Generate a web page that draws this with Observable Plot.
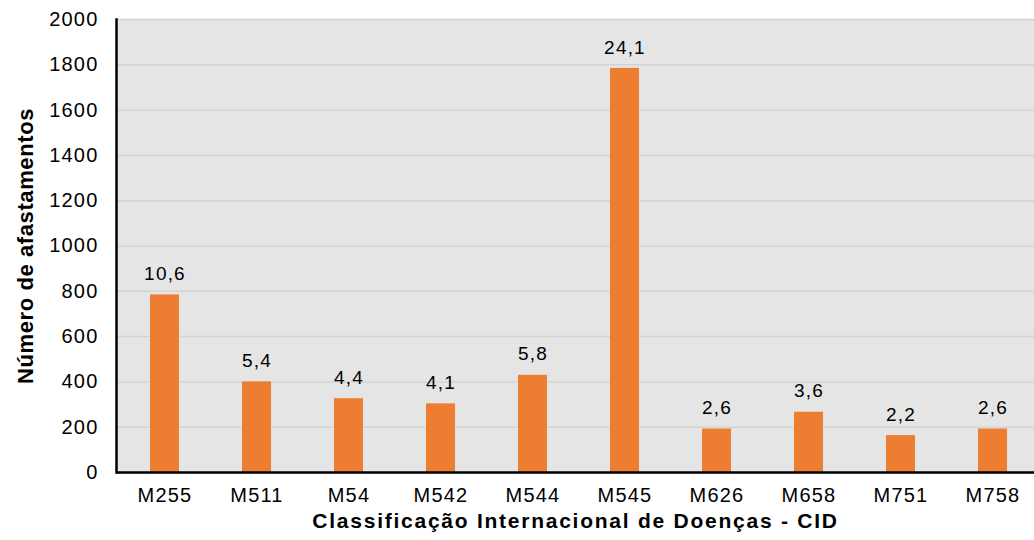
<!DOCTYPE html>
<html>
<head>
<meta charset="utf-8">
<script src="https://cdn.jsdelivr.net/npm/d3@7"></script>
<script src="https://cdn.jsdelivr.net/npm/@observablehq/plot@0.6"></script>
<style>
  html, body { margin: 0; padding: 0; background: #fff; overflow: hidden; }
</style>
</head>
<body>
<div id="chart"></div>
<script>
const categories = ["M255", "M511", "M54", "M542", "M544", "M545", "M626", "M658", "M751", "M758"];
const counts = [784, 400, 326, 303, 429, 1784, 192, 266, 163, 192];
const percentLabels = ["10,6", "5,4", "4,4", "4,1", "5,8", "24,1", "2,6", "3,6", "2,2", "2,6"];
const yTicks = [0, 200, 400, 600, 800, 1000, 1200, 1400, 1600, 1800, 2000];
const xTitle = "Classificação Internacional de Doenças - CID";
const yTitle = "Número de afastamentos";

const data = categories.map((c, i) => ({cid: c, n: counts[i], pct: percentLabels[i]}));

const chart = Plot.plot({
  width: 1034,
  height: 540,
  marginLeft: 116,
  marginRight: 0,
  marginTop: 19,
  marginBottom: 68,
  style: {fontFamily: "'Liberation Sans', Arial, sans-serif", fontSize: "20px", background: "#fff", color: "#000"},
  x: {domain: categories, range: [116, 1040], paddingInner: 0.686, paddingOuter: 0.343, label: null},
  y: {domain: [0, 2000], label: null},
  marks: [
    Plot.frame({fill: "#e5e5e5", stroke: null}),
    Plot.gridY(yTicks, {stroke: "#d3d3d3", strokeOpacity: 1, strokeWidth: 1.5}),
    Plot.barY(data, {x: "cid", y: "n", fill: "#ED7D31"}),
    Plot.text(data, {x: "cid", y: "n", text: "pct", dy: -21, fontSize: 19, fill: "#000"}),
    Plot.axisY(yTicks, {tickSize: 0, tickPadding: 18, label: null, fontSize: 20, tickFormat: d3.format("d")}),
    Plot.axisX({tickSize: 0, tickPadding: 15, label: null, fontSize: 20}),
    Plot.frame({anchor: "left", stroke: "#000", strokeWidth: 2.5}),
    Plot.ruleY([0], {stroke: "#000", strokeWidth: 2.5}),
    Plot.text([xTitle], {frameAnchor: "bottom", dy: 55, fontWeight: "bold", fontSize: 21, fill: "#000"}),
    Plot.text([yTitle], {frameAnchor: "left", textAnchor: "middle", rotate: -90, dx: -91, fontWeight: "bold", fontSize: 22, fill: "#000"})
  ]
});
const sel = d3.select(chart);
sel.selectAll("text").style("letter-spacing", "1.2px");
sel.selectAll("text").filter(function () { return this.textContent === xTitle; }).style("letter-spacing", "1.75px");
sel.selectAll("text").filter(function () { return this.textContent === yTitle; }).style("letter-spacing", "0.6px");
document.getElementById("chart").appendChild(chart);
</script>
</body>
</html>
